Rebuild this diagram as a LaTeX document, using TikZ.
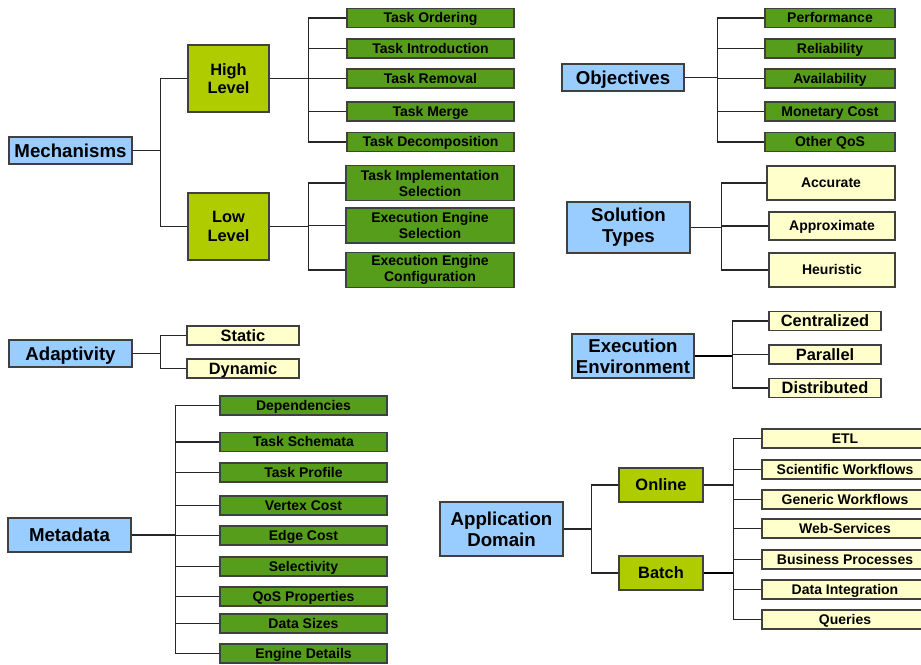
\documentclass[tikz,border=0pt]{standalone}
\usepackage{fontspec}
\setmainfont{Liberation Sans}

\definecolor{catblue}{RGB}{153,204,255}
\definecolor{midlime}{RGB}{174,204,0}
\definecolor{leafgreen}{RGB}{87,157,28}
\definecolor{optyellow}{RGB}{255,255,204}
\definecolor{edgegray}{RGB}{64,64,64}

\tikzset{
  sz/.style 2 args={minimum width=#1*0.75pt, minimum height=#2*0.75pt},
  box/.style={draw=edgegray, line width=0.8pt, inner sep=0pt, align=center},
  oneline/.style={align=none, text height=#1, text depth=0pt},
  oneline/.default=7.4pt,
  catbox/.style={box, fill=catblue, font=\fontsize{14}{16}\selectfont\bfseries},
  midbox/.style={box, fill=midlime, font=\fontsize{12.3}{14}\selectfont\bfseries},
  leafbox/.style={box, fill=leafgreen, font=\fontsize{10.5}{12}\selectfont\bfseries},
  optbox/.style={box, fill=optyellow, font=\fontsize{10.5}{12}\selectfont\bfseries},
  bigopt/.style={box, fill=optyellow, font=\fontsize{12.3}{14}\selectfont\bfseries},
  conn/.style={draw=black!85, line width=0.8pt},
  thickconn/.style={draw=black, line width=1.5pt}
}

\begin{document}
\begin{tikzpicture}[x=0.75pt,y=0.75pt,yscale=-1,xscale=1]
\clip (0,0) rectangle (921,664);

% Mechanisms
\node[catbox, oneline=10pt, sz={123}{27}] (mech) at (70.5,150.5) {Mechanisms};
\node[midbox, sz={81}{67}] (high) at (228.5,78.5) {High\\Level};
\node[midbox, sz={81}{67}] (low) at (228.5,226.5) {Low\\Level};
\node[leafbox, oneline, sz={167}{19}] (ordering) at (430.5,18) {Task Ordering};
\node[leafbox, oneline, sz={167}{19}] (intro) at (430.5,48.5) {Task Introduction};
\node[leafbox, oneline, sz={167}{19}] (removal) at (430.5,78.5) {Task Removal};
\node[leafbox, oneline, sz={167}{19}] (merge) at (430.5,111.5) {Task Merge};
\node[leafbox, oneline, sz={167}{19}] (decomp) at (430.5,142) {Task Decomposition};
\node[leafbox, sz={168}{35}] (implsel) at (430,183) {Task Implementation\\Selection};
\node[leafbox, sz={168}{35}] (enginesel) at (430,225.5) {Execution Engine\\Selection};
\node[leafbox, sz={168}{35}] (engineconf) at (430,270) {Execution Engine\\Configuration};

\draw[conn] (mech.east) -- +(28,0) coordinate (mechbus) (mechbus) |- (high.west) (mechbus) |- (low.west);
\draw[conn] (high.east) -- +(39,0) coordinate (highbus) (highbus) |- (ordering.west) (highbus) |- (intro.west)
  (highbus) |- (removal.west) (highbus) |- (merge.west) (highbus) |- (decomp.west);
\draw[conn] (low.east) -- +(39,0) coordinate (lowbus) (lowbus) |- (implsel.west) (lowbus) |- (enginesel.west)
  (lowbus) |- (engineconf.west);

% Objectives
\node[catbox, oneline=10pt, sz={122}{27}] (obj) at (623,77.5) {Objectives};
\node[leafbox, oneline, sz={130}{19}] (perf) at (830,18) {Performance};
\node[leafbox, oneline, sz={130}{19}] (reliab) at (830,48.5) {Reliability};
\node[leafbox, oneline, sz={130}{19}] (avail) at (830,78.5) {Availability};
\node[leafbox, oneline, sz={130}{19}] (money) at (830,111.5) {Monetary Cost};
\node[leafbox, oneline, sz={130}{19}] (qos) at (830,142) {Other QoS};

\draw[conn] (obj.east) -- +(33,0) coordinate (objbus) (objbus) |- (perf.west) (objbus) |- (reliab.west)
  (objbus) |- (avail.west) (objbus) |- (money.west) (objbus) |- (qos.west);

% Solution Types
\node[catbox, sz={123}{51}] (sol) at (628.5,227.5) {Solution\\Types};
\node[optbox, oneline, sz={128}{34}] (accurate) at (831,183) {Accurate};
\node[optbox, oneline, sz={126}{28}] (approx) at (832,226) {Approximate};
\node[optbox, oneline, sz={126}{34}] (heur) at (832,270) {Heuristic};

\draw[conn] (sol.east) -- +(31,0) coordinate (solbus) (solbus) |- (accurate.west) (solbus) |- (approx.west)
  (solbus) |- (heur.west);

% Adaptivity
\node[catbox, oneline=10pt, sz={123}{27}] (adapt) at (70.5,353.5) {Adaptivity};
\node[bigopt, oneline=8.8pt, sz={112}{19}] (static) at (243,335.5) {Static};
\node[bigopt, oneline=8.8pt, sz={112}{19}] (dynamic) at (243,368.5) {Dynamic};

\draw[conn] (adapt.east) -- +(28,0) coordinate (adaptbus) (adaptbus) |- (static.west) (adaptbus) |- (dynamic.west);

% Metadata
\node[catbox, oneline=10pt, sz={123}{34}] (meta) at (69.5,535) {Metadata};
\node[leafbox, oneline, sz={167}{19}] (deps) at (303.5,405.5) {Dependencies};
\node[leafbox, oneline, sz={167}{19}] (schemata) at (303.5,442) {Task Schemata};
\node[leafbox, oneline, sz={167}{19}] (profile) at (303.5,472.5) {Task Profile};
\node[leafbox, oneline, sz={167}{19}] (vertex) at (303.5,505.5) {Vertex Cost};
\node[leafbox, oneline, sz={167}{19}] (edgecost) at (303.5,535.5) {Edge Cost};
\node[leafbox, oneline, sz={167}{19}] (select) at (303.5,566.5) {Selectivity};
\node[leafbox, oneline, sz={167}{19}] (qosprop) at (303.5,596.5) {QoS Properties};
\node[leafbox, oneline, sz={167}{19}] (sizes) at (303.5,623.5) {Data Sizes};
\node[leafbox, oneline, sz={167}{19}] (engdet) at (303.5,653.5) {Engine Details};

\draw[conn] (meta.east) -- +(44,0) coordinate (metabus) (metabus) |- (deps.west) (metabus) |- (schemata.west)
  (metabus) |- (profile.west) (metabus) |- (vertex.west) (metabus) |- (edgecost.west)
  (metabus) |- (select.west) (metabus) |- (qosprop.west) (metabus) |- (sizes.west) (metabus) |- (engdet.west);

% Execution Environment
\node[catbox, sz={122}{44}] (env) at (633,356) {Execution\\Environment};
\node[bigopt, oneline=8.8pt, sz={112}{19}] (central) at (825,321) {Centralized};
\node[bigopt, oneline=8.8pt, sz={112}{19}] (parallel) at (825,354.5) {Parallel};
\node[bigopt, oneline=8.8pt, sz={112}{19}] (distrib) at (825,388) {Distributed};

\draw[thickconn] (env.east) -- +(38,0) coordinate (envbus);
\draw[conn] (envbus) |- (central.west) (envbus) |- (parallel.west) (envbus) |- (distrib.west);

% Application Domain
\node[catbox, sz={123}{54}] (app) at (501.5,529) {Application\\Domain};
\node[midbox, oneline=8.8pt, sz={84}{34}] (online) at (661,485) {Online};
\node[midbox, oneline=8.8pt, sz={84}{34}] (batch) at (661,573) {Batch};
\node[optbox, oneline, sz={166}{19}] (etl) at (845,438.5) {ETL};
\node[optbox, oneline, sz={166}{19}] (sciwf) at (845,469.5) {Scientific Workflows};
\node[optbox, oneline, sz={166}{19}] (genwf) at (845,499.5) {Generic Workflows};
\node[optbox, oneline, sz={166}{19}] (websrv) at (845,528.5) {Web-Services};
\node[optbox, oneline, sz={166}{19}] (business) at (845,559.5) {Business Processes};
\node[optbox, oneline, sz={166}{19}] (integr) at (845,589.5) {Data Integration};
\node[optbox, oneline, sz={166}{19}] (queries) at (845,619.5) {Queries};

\draw[conn] (app.east) -- +(28,0) coordinate (appbus) (appbus) |- (online.west) (appbus) |- (batch.west);
\draw[conn] (online.east) -- +(30,0) coordinate (modebus);
\draw[thickconn] (batch.east) -- +(30,0);
\draw[conn] (modebus) |- (etl.west) (modebus) |- (sciwf.west) (modebus) |- (genwf.west)
  (modebus) |- (websrv.west) (modebus) |- (business.west) (modebus) |- (integr.west) (modebus) |- (queries.west);

\end{tikzpicture}
\end{document}
